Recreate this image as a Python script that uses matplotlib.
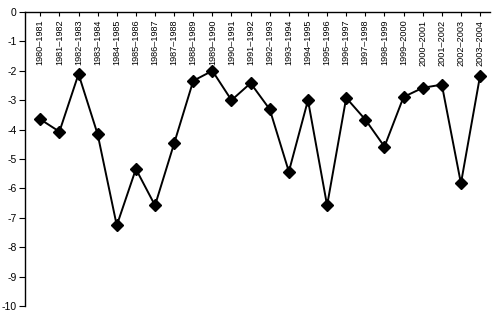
import matplotlib
matplotlib.use("Agg")
import matplotlib.pyplot as plt

# ── Datos ────────────────────────────────────────────────────
periodos = [f"{a}\u2013{a + 1}" for a in range(1980, 2004)]
valores = [-3.65, -4.07, -2.11, -4.16, -7.26, -5.34, -6.58, -4.47,
           -2.34, -2.00, -3.00, -2.42, -3.31, -5.43, -3.00, -6.58,
           -2.92, -3.66, -4.58, -2.89, -2.58, -2.47, -5.83, -2.17]
yticks = list(range(0, -11, -1))

fig = plt.figure(figsize=(4.92, 3.19), dpi=100)
ax = fig.add_axes([25/492, 1 - 306/319, 465/492, 294/319])

x = list(range(len(valores)))
ax.plot(x, valores, color="black", linewidth=1.4, marker="D",
        markersize=6.5, markerfacecolor="black", markeredgecolor="black")

ax.set_xlim(-0.8, len(valores) - 1 + 0.52)
ax.set_ylim(-10, 0)

# ejes: solo izquierda y arriba
ax.spines["right"].set_visible(False)
ax.spines["bottom"].set_visible(False)
ax.spines["left"].set_linewidth(1.0)
ax.spines["top"].set_linewidth(1.0)

ax.set_yticks(yticks)
ax.set_yticklabels([str(v) for v in yticks], fontsize=7.5, family="Liberation Sans")
ax.tick_params(axis="y", direction="out", length=4, width=0.8, pad=2)

ax.xaxis.set_ticks_position("top")
ax.set_xticks(x)
ax.set_xticklabels([])
ax.tick_params(axis="x", direction="in", length=3, width=0.8)

for i, lab in enumerate(periodos):
    ax.text(i, -0.26, lab, rotation=90, ha="center", va="top",
            fontsize=6.6, family="Liberation Sans")

fig.savefig("out.png", dpi=100)
